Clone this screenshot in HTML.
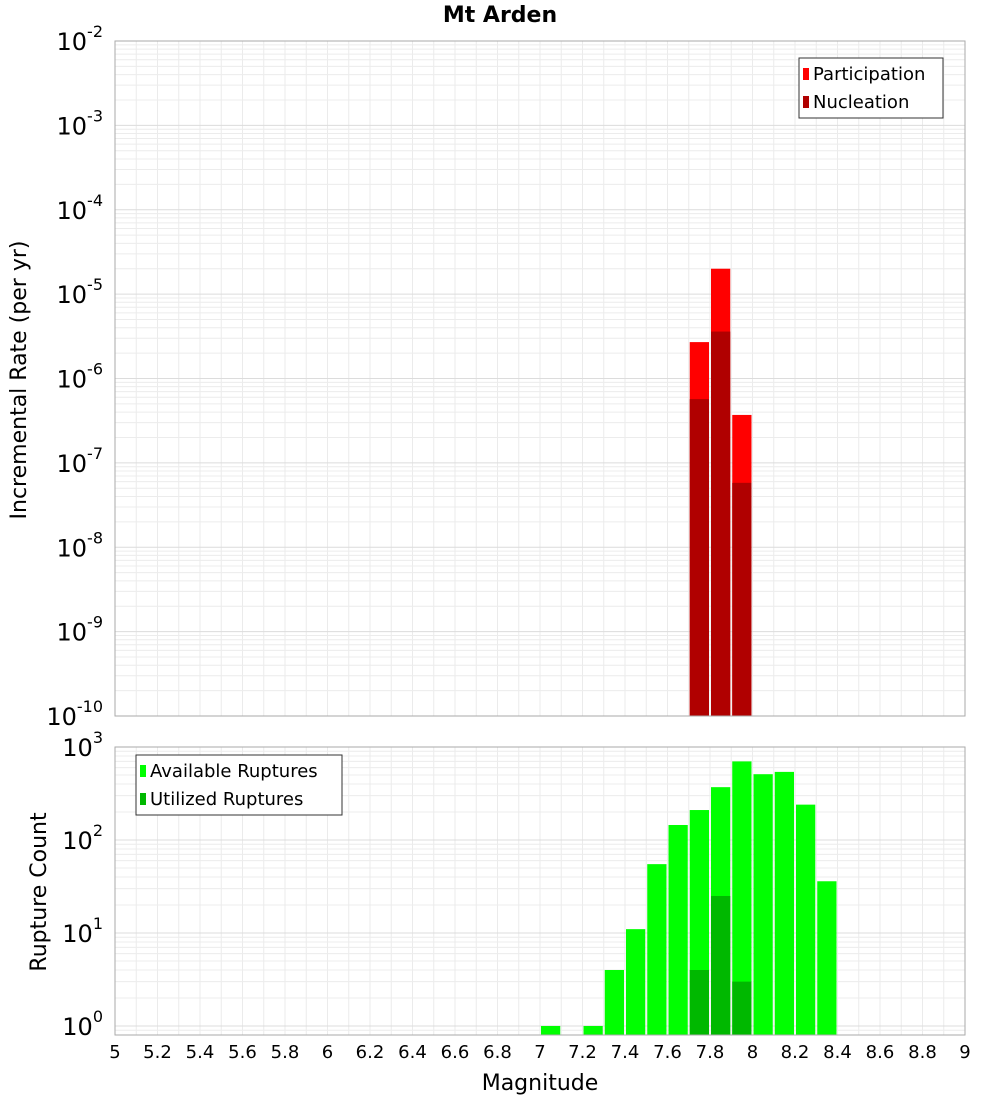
<!DOCTYPE html>
<html><head><meta charset="utf-8"><style>
body{margin:0;background:#fff;font-family:"Liberation Sans","DejaVu Sans",sans-serif;}
svg text{font-family:"DejaVu Sans","Liberation Sans",sans-serif;}
</style></head><body>
<svg id="c" width="1000" height="1100" xmlns="http://www.w3.org/2000/svg"></svg>
<script>
const xTicks=[5,5.2,5.4,5.6,5.8,6,6.2,6.4,6.6,6.8,7,7.2,7.4,7.6,7.8,8,8.2,8.4,8.6,8.8,9];
const topMags=[7.75,7.85,7.95];
const participation=[2.7e-6,2e-5,3.7e-7];
const nucleation=[5.7e-7,3.6e-6,5.8e-8];
const botMags=[7.05,7.25,7.35,7.45,7.55,7.65,7.75,7.85,7.95,8.05,8.15,8.25,8.35];
const available=[1,1,4,11,55,145,210,370,700,510,540,240,36];
const utilMags=[7.75,7.85,7.95];
const utilized=[4,25,3];
const topExps=[-2,-3,-4,-5,-6,-7,-8,-9,-10];
const botExps=[3,2,1,0];

const NS="http://www.w3.org/2000/svg";
const svg=document.getElementById('c');
function el(t,a,p){const e=document.createElementNS(NS,t);for(const k in a)e.setAttribute(k,a[k]);(p||svg).appendChild(e);return e;}
const X0=115,X1=965;
const x=v=>X0+(v-5)/4*(X1-X0);
const T0=41,T1=716;
const yT=v=>T0+(-2-Math.log10(v))/8*(T1-T0);
const B0=747,B1=1035,bMin=Math.log10(0.8);
const yB=v=>B0+(3-Math.log10(v))/(3-bMin)*(B1-B0);

// grids
function grid(y0,y1,yf,decs,lo){
  for(let t=5;t<=9.0001;t+=0.1){const g=el('line',{x1:x(t),x2:x(t),y1:y0,y2:y1,stroke:'#ebebeb','stroke-width':1});}
  for(const d of decs){for(let m=1;m<10;m++){const v=m*Math.pow(10,d);const yy=yf(v);if(yy<y0-0.5||yy>y1+0.5)continue;const g=el('line',{x1:X0,x2:X1,y1:yy,y2:yy,stroke:m==1?'#dcdcdc':'#ececec','stroke-width':1});}}
}
grid(T0,T1,yT,[-10,-9,-8,-7,-6,-5,-4,-3,-2]);
grid(B0,B1,yB,[-1,0,1,2,3]);

const bw=(x(0.1)-x(0))-2;
topMags.forEach((m,i)=>{
  const r=el('rect',{x:x(m-0.05)+1,y:yT(participation[i]),width:bw,height:T1-yT(participation[i]),fill:'#ff0000'});
  
  const n=el('rect',{x:x(m-0.05)+1,y:yT(nucleation[i]),width:bw,height:T1-yT(nucleation[i]),fill:'#b00000'});
  
});
botMags.forEach((m,i)=>{
  const r=el('rect',{x:x(m-0.05)+1,y:yB(available[i]),width:bw,height:B1-yB(available[i]),fill:'#00ff00'});
  
});
utilMags.forEach((m,i)=>{
  const r=el('rect',{x:x(m-0.05)+1,y:yB(utilized[i]),width:bw,height:B1-yB(utilized[i]),fill:'#00b800'});
  
});

// frames
el('rect',{x:X0,y:T0,width:X1-X0,height:T1-T0,fill:'none',stroke:'#aaa'});
el('rect',{x:X0,y:B0,width:X1-X0,height:B1-B0,fill:'none',stroke:'#aaa'});

function ylab(e,yy,name){
  const t=el('text',{x:103,y:yy+9,'text-anchor':'end','font-size':24,fill:'#000'});
  
  t.textContent='10';
  const s=el('tspan',{dy:-13,'font-size':16},t);s.textContent=String(e);
}
topExps.forEach(e=>ylab(e,yT(Math.pow(10,e)),'top-y-tick-label'));
botExps.forEach(e=>ylab(e,yB(Math.pow(10,e)),'bottom-y-tick-label'));
xTicks.forEach(v=>{
  const t=el('text',{x:x(v),y:1058,'text-anchor':'middle','font-size':18,fill:'#000'});
  
  t.textContent=String(v);
});
function txt(s,a,name){const t=el('text',a);t.textContent=s;return t;}
txt('Mt Arden',{x:500,y:22,'text-anchor':'middle','font-size':22,'font-weight':'bold'},'chart-title');
txt('Magnitude',{x:540,y:1090,'text-anchor':'middle','font-size':22},'x-axis-title');
txt('Incremental Rate (per yr)',{x:0,y:0,'text-anchor':'middle','font-size':22,transform:'translate(26,380) rotate(-90)'},'top-y-axis-title');
txt('Rupture Count',{x:0,y:0,'text-anchor':'middle','font-size':22,transform:'translate(46,892) rotate(-90)'},'bottom-y-axis-title');

// legends
function legend(lx,ly,w,items,name){
  const g=el('g',{});
  el('rect',{x:lx,y:ly,width:w,height:60,fill:'#fff',stroke:'#333'},g);
  items.forEach((it,i)=>{
    el('rect',{x:lx+4,y:ly+10+i*28,width:6,height:12,fill:it[1]},g);
    const t=el('text',{x:lx+14,y:ly+22+i*28,'font-size':18},g);t.textContent=it[0];
  });
}
legend(799,58,144,[['Participation','#ff0000'],['Nucleation','#b00000']],'top-legend');
legend(136,755,206,[['Available Ruptures','#00ff00'],['Utilized Ruptures','#00b800']],'bottom-legend');
</script>
</body></html>
